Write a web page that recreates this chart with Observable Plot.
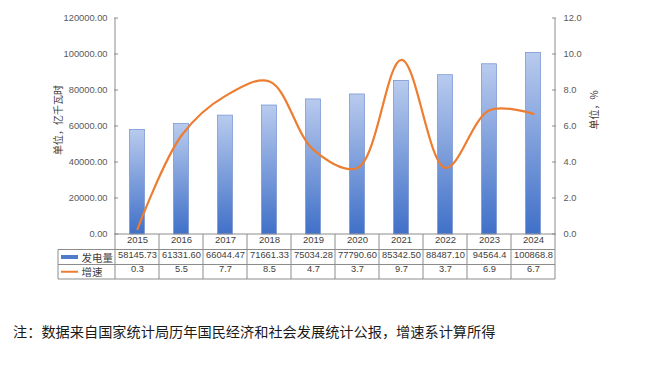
<!DOCTYPE html>
<html><head><meta charset="utf-8">
<script src="https://cdn.jsdelivr.net/npm/d3@7"></script>
<script src="https://cdn.jsdelivr.net/npm/@observablehq/plot@0.6"></script>
<style>
body{margin:0;background:#fff;font-family:"Liberation Sans",Arial,sans-serif}
#chart{position:absolute;left:0;top:0}
#cap{position:absolute;left:13px;top:321px;font-family:"Noto Sans CJK SC";font-size:14.2px;line-height:20px;color:#1a1a1a;white-space:nowrap}
</style>
</head><body>
<div id="chart"></div>
<div id="cap">注：数据来自国家统计局历年国民经济和社会发展统计公报，增速系计算所得</div>
<script>
const years = ["2015","2016","2017","2018","2019","2020","2021","2022","2023","2024"];
const output = [58145.73,61331.60,66044.47,71661.33,75034.28,77790.60,85342.50,88487.10,94564.4,100868.8];
const outputLabels = ["58145.73","61331.60","66044.47","71661.33","75034.28","77790.60","85342.50","88487.10","94564.4","100868.8"];
const growth = [0.3,5.5,7.7,8.5,4.7,3.7,9.7,3.7,6.9,6.7];
const growthLabels = ["0.3","5.5","7.7","8.5","4.7","3.7","9.7","3.7","6.9","6.7"];
const leftTicks = [0,20000,40000,60000,80000,100000,120000];
const rightTicks = [0,2,4,6,8,10,12];
const seriesNames = ["发电量","增速"];
const leftTitle = "单位，亿千瓦时";
const rightTitle = "单位，%";

const RATIO = 120000 / 12; // secondary axis mapping
const data = years.map((y,i)=>({year:y, output:output[i], outLabel:outputLabels[i], growth:growth[i], gLabel:growthLabels[i]}));
const rdata = rightTicks.map(t=>({t}));
const ldata = leftTicks.map(t=>({t}));

const NS = "http://www.w3.org/2000/svg";
function el(tag, attrs, text){const e=document.createElementNS(NS,tag);for(const k in attrs)e.setAttribute(k,attrs[k]);if(text!=null)e.textContent=text;return e;}

function defsMark(){
  const g = el("g",{});
  const defs = el("defs",{});
  const lg = el("linearGradient",{id:"barGrad",x1:"0",y1:"0",x2:"0",y2:"1"});
  lg.appendChild(el("stop",{offset:"0%","stop-color":"#b9cbee"}));
  lg.appendChild(el("stop",{offset:"100%","stop-color":"#4070c8"}));
  defs.appendChild(lg); g.appendChild(defs);
  return g;
}

function tableMark(index, scales, values, dims){
  const x = scales.x;
  const bw = typeof x.bandwidth === "function" ? x.bandwidth() : x.bandwidth;
  const L = x(years[0]), R = x(years[years.length-1]) + bw;
  const top = dims.marginTop, base = dims.height - dims.marginBottom;
  const r1 = base + 15.5, r2 = base + 30.5, r3 = base + 45;
  const lx = 58;
  const g = el("g",{stroke:"#8c8c8c","stroke-width":"1",fill:"none"});
  const line=(x1,y1,x2,y2)=>g.appendChild(el("line",{x1,y1,x2,y2}));
  line(L, top, L, r3);
  line(R, top, R, r3);
  years.forEach((y,i)=>{ if(i>0){ const xx = x(y); line(xx, base, xx, r3);} });
  line(L, base, R, base);
  line(lx, r1, R, r1);
  line(lx, r2, R, r2);
  line(lx, r3, R, r3);
  line(lx, r1, lx, r3);
  // axis ticks (inward)
  const y = scales.y;
  leftTicks.forEach(t=>line(L-1, y(t), L+3, y(t)));
  rightTicks.forEach(t=>line(R-3, y(t*RATIO), R+1, y(t*RATIO)));
  // legend column
  g.appendChild(el("rect",{x:61,y:(r1+r2)/2-2,width:17,height:4,fill:"#4f7bcc",stroke:"none"}));
  g.appendChild(el("line",{x1:61,y1:(r2+r3)/2,x2:78,y2:(r2+r3)/2,stroke:"#ed7d31","stroke-width":"2"}));
  const txt = {"text-anchor":"start","dominant-baseline":"central",fill:"#404040",stroke:"none","font-family":"Noto Sans CJK SC","font-size":"10.5px"};
  g.appendChild(el("text",Object.assign({x:81.5,y:(r1+r2)/2},txt),seriesNames[0]));
  g.appendChild(el("text",Object.assign({x:81.5,y:(r2+r3)/2},txt),seriesNames[1]));
  // axis titles
  const midY = (top+base)/2;
  const tt = {"text-anchor":"middle","dominant-baseline":"central",fill:"#404040",stroke:"none","font-family":"Noto Sans CJK SC","font-size":"10px"};
  g.appendChild(el("text",Object.assign({transform:`translate(57,${midY-6}) rotate(-90)`},tt),leftTitle));
  g.appendChild(el("text",Object.assign({transform:`translate(593,${midY-16}) rotate(-90)`},tt),rightTitle));
  return g;
}

const chart = Plot.plot({
  width: 660, height: 300,
  marginTop: 18, marginBottom: 66, marginLeft: 114, marginRight: 104,
  style: {fontFamily: "Liberation Sans, Arial, sans-serif", background: "#fff"},
  x: {type: "band", domain: years, padding: 0, axis: null},
  y: {domain: [0, 120000], axis: null},
  marks: [
    defsMark,
    Plot.barY(data, {x: "year", y: "output", fill: "url(#barGrad)", stroke: "#6d8ed0", strokeWidth: 0.7, insetLeft: 14.6, insetRight: 14.6}),
    Plot.line(data, {x: "year", y: d => d.growth * RATIO, stroke: "#ed7d31", strokeWidth: 2.2, curve: "catmull-rom"}),
    Plot.text(ldata, {y: "t", text: d => d.t.toFixed(2), frameAnchor: "left", textAnchor: "end", dx: -7, fontSize: 9.3, fill: "#595959"}),
    Plot.text(rdata, {y: d => d.t * RATIO, text: d => d.t.toFixed(1), frameAnchor: "right", textAnchor: "start", dx: 7, fontSize: 9.3, fill: "#595959"}),
    Plot.text(data, {x: "year", text: "year", frameAnchor: "bottom", dy: 8, fontSize: 9.5, fill: "#404040"}),
    Plot.text(data, {x: "year", text: "outLabel", frameAnchor: "bottom", dy: 23, fontSize: 9.3, fill: "#404040"}),
    Plot.text(data, {x: "year", text: "gLabel", frameAnchor: "bottom", dy: 37.8, fontSize: 9.3, fill: "#404040"}),
    tableMark
  ]
});
document.getElementById("chart").appendChild(chart);
</script>
</body></html>
